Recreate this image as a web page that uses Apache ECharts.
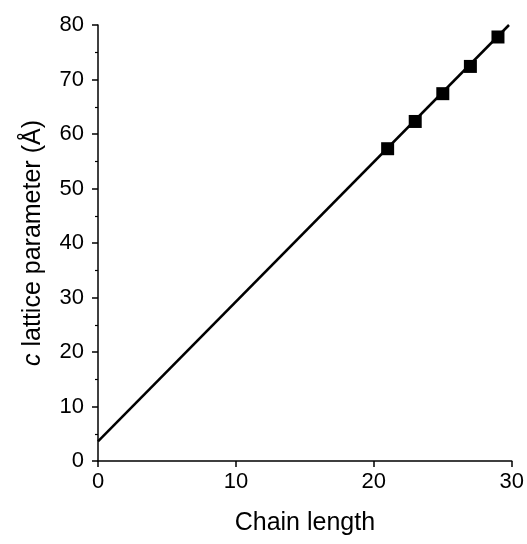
<!DOCTYPE html>
<html>
<head>
<meta charset="utf-8">
<script src="https://cdn.jsdelivr.net/npm/echarts@6/dist/echarts.min.js"></script>
<style>
  html, body { margin: 0; padding: 0; background: #fff; }
  #chart { width: 527px; height: 544px; }
</style>
</head>
<body>
<div id="chart"></div>
<script>
  // measured points
  var chainLength = [21, 23, 25, 27, 29];
  var cParam = [57.3, 62.3, 67.4, 72.4, 77.8];
  // linear fit line ends
  var fitX = [0, 29.8];
  var fitY = [3.6, 80];

  var chart = echarts.init(document.getElementById('chart'));
  var font = 'Liberation Sans, Arial, sans-serif';

  chart.setOption({
    animation: false,
    grid: { left: 98, right: 15, top: 25, bottom: 83 },
    xAxis: {
      type: 'value',
      min: 0,
      max: 30,
      interval: 10,
      name: 'Chain length',
      nameLocation: 'middle',
      nameGap: 50,
      nameTextStyle: { fontFamily: font, fontSize: 25, color: '#000' },
      axisLine: { show: true, onZero: false, lineStyle: { color: '#000', width: 1.5 } },
      axisTick: { show: true, inside: false, length: 6, lineStyle: { color: '#000', width: 1.5 } },
      axisLabel: { fontFamily: font, fontSize: 22, color: '#000', margin: 10 },
      splitLine: { show: false }
    },
    yAxis: {
      type: 'value',
      min: 0,
      max: 80,
      interval: 10,
      name: '{i|c} lattice parameter (Å)',
      nameLocation: 'middle',
      nameGap: 52,
      nameTextStyle: {
        fontFamily: font, fontSize: 25, color: '#000',
        rich: { i: { fontFamily: font, fontSize: 25, fontStyle: 'italic', color: '#000' } }
      },
      axisLine: { show: true, onZero: false, lineStyle: { color: '#000', width: 1.5 } },
      axisTick: { show: true, inside: false, length: 6, lineStyle: { color: '#000', width: 1.5 } },
      minorTick: { show: true, splitNumber: 2, length: 3, lineStyle: { color: '#000', width: 1.2 } },
      axisLabel: { fontFamily: font, fontSize: 22, color: '#000', margin: 14 },
      splitLine: { show: false }
    },
    series: [
      {
        type: 'line',
        data: fitX.map(function (x, i) { return [x, fitY[i]]; }),
        showSymbol: false,
        symbol: 'none',
        lineStyle: { color: '#000', width: 2.5 },
        z: 2
      },
      {
        type: 'scatter',
        data: chainLength.map(function (x, i) { return [x, cParam[i]]; }),
        symbol: 'rect',
        symbolSize: 13,
        itemStyle: { color: '#000', opacity: 1 },
        z: 3
      }
    ]
  });
</script>
</body>
</html>
